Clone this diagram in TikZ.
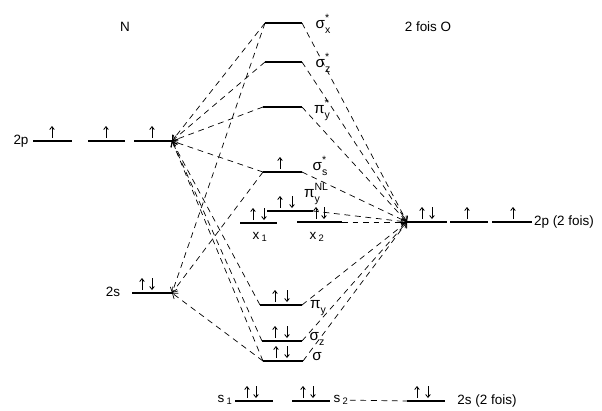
\documentclass[tikz,border=0pt]{standalone}
\usepackage{fontspec}
\setmainfont{Liberation Sans}
\usetikzlibrary{arrows.meta}
\newcommand{\sps}[2]{\rlap{\raisebox{0.85ex}{\fontsize{9}{9}\selectfont #1}}\raisebox{-0.6ex}{\fontsize{9}{9}\selectfont #2}}

\begin{document}
\begin{tikzpicture}[x=0.03cm,y=-0.03cm,
	level/.style={line width=0.9pt},
	link/.style={dash pattern=on 5pt off 4pt,line width=0.6pt},
	tolink/.style={link,-{Straight Barb[length=4pt,width=6pt]}},
	spin/.style={line width=0.7pt,-{Straight Barb[length=2.5pt,width=4pt]}},
	lbl/.style={font=\fontsize{11.5}{13}\selectfont,inner sep=1pt},
	molbl/.style={font=\fontsize{13}{15}\selectfont,inner sep=1pt}]
		\useasboundingbox (0,0) rectangle (602,410);

		\node[lbl] (ntitle) at (125,27) {N};
		\node[lbl] (otitle) at (428,27) {2 fois O};

		%##### N : 2p and 2s
		\draw[level] (33,141) -- (72,141);
		\draw[level] (88,141) -- (125,141);
		\draw[level] (134,141) -- (172,141) coordinate (n2p);
		\node[lbl] (n2plab) at (21,141) {2p};
		\draw[level] (132,293) -- (172,293) coordinate (n2s);
		\node[lbl] (n2slab) at (113,292) {2s};

		%##### O : 2p and 2s
		\draw[level] (407,222) coordinate (o2p) -- (447,222);
		\draw[level] (450,222) -- (488,222);
		\draw[level] (492,222) -- (532,222);
		\node[lbl] (o2plab) at (564,222) {2p (2 fois)};
		\draw[level] (407,401) coordinate (o2s) -- (445,401);
		\node[lbl] (o2slab) at (487,401) {2s (2 fois)};
		\draw[level] (235,401) -- (273,401);
		\draw[level] (292,401) -- (330,401);
		\node[lbl] (s1lab) at (225,400) {s\,\textsubscript{1}};
		\node[lbl] (s2lab) at (341,400) {s\,\textsubscript{2}};

		%##### molecular levels
		\draw[level] (265,23) coordinate (sxL) -- (302,23) coordinate (sxR);
		\draw[level] (265,62) coordinate (szL) -- (302,62) coordinate (szR);
		\draw[level] (263,107) coordinate (pyL) -- (302,107) coordinate (pyR);
		\draw[level] (263,172) coordinate (ssL) -- (302,172) coordinate (ssR);
		\draw[level] (267,211) coordinate (nlL) -- (313,211) coordinate (nlR);
		\draw[level] (240,223) coordinate (x1L) -- (277,223) coordinate (x1R);
		\draw[level] (297,222) coordinate (x2L) -- (342,222) coordinate (x2R);
		\draw[level] (260,305) coordinate (bpL) -- (302,305) coordinate (bpR);
		\draw[level] (262,341) coordinate (bzL) -- (302,341) coordinate (bzR);
		\draw[level] (263,361) coordinate (bsL) -- (303,361) coordinate (bsR);

		\node[molbl] (sxlab) at (323,24) {σ\sps{*}{x}};
		\node[molbl] (szlab) at (323,63) {σ\sps{*}{z}};
		\node[molbl] (pylab) at (322,110) {π\sps{*}{y}};
		\node[molbl] (sslab) at (320,166) {σ\sps{*}{s}};
		\node[molbl] (nllab) at (312,194) {π\sps{NL}{y}};
		\node[lbl] (x1lab) at (260,237) {x\,\textsubscript{1}};
		\node[lbl] (x2lab) at (317,237) {x\,\textsubscript{2}};
		\node[molbl] (bplab) at (318,308) {π\sps{}{y}};
		\node[molbl] (bzlab) at (317,339) {σ\sps{}{z}};
		\node[molbl] (bslab) at (317,357) {σ};

		%##### electrons
		\foreach \x/\y in {52/141,106/141,152/141,280/172,467/222,513/222}
		\draw[spin] (\x,\y-3) -- (\x,\y-15);
		\foreach \u/\d/\y in {142/152/293,422/432/222,280/292/211,253/264/223,316/324/222,275/287/305,275/287/341,276/287/361,247/256/401,303/313/401,417/428/401}{
		\draw[spin] (\u,\y-3) -- (\u,\y-15);
		\draw[spin] (\d,\y-15) -- (\d,\y-3);
		}

		%##### correlation lines
		\foreach \m in {sxL,szL,pyL,ssL,bpL,bzL,bsL}
		\draw[tolink] (\m) -- (n2p);
		\foreach \m in {sxL,ssL,bsL}
		\draw[tolink] (\m) -- (n2s);
		\foreach \m in {sxR,szR,pyR,ssR,nlR,x2R,bpR,bzR,bsR}
		\draw[tolink] (\m) -- (o2p);
		\draw[link] (s2lab) -- (o2s);
\end{tikzpicture}
\end{document}
